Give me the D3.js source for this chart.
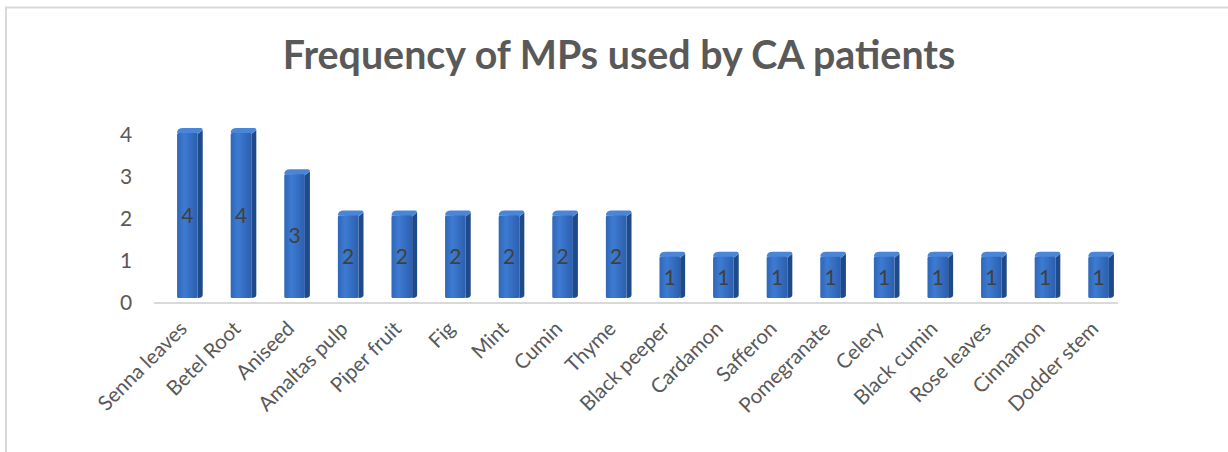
<!DOCTYPE html>
<html>
<head>
<meta charset="utf-8">
<script src="https://cdn.jsdelivr.net/npm/d3@7"></script>
<style>
  body { margin: 0; background: #fff; }
  svg { display: block; font-family: Lato, "Open Sans", sans-serif; }
</style>
</head>
<body>
<svg></svg>
<script>
var categories = ["Senna leaves", "Betel Root", "Aniseed", "Amaltas pulp", "Piper fruit", "Fig", "Mint", "Cumin", "Thyme",
    "Black peeper", "Cardamon", "Safferon", "Pomegranate", "Celery", "Black cumin", "Rose leaves", "Cinnamon", "Dodder stem"];
var values = [4, 4, 3, 2, 2, 2, 2, 2, 2, 1, 1, 1, 1, 1, 1, 1, 1, 1];
var yTicks = [0, 1, 2, 3, 4];
var title = "Frequency of MPs used by CA patients";

var width = 1228, height = 452;
var svg = d3.select("svg").attr("width", width).attr("height", height);

// chart frame (runs off the right and bottom edges)
svg.append("rect")
    .attr("x", 6).attr("y", 7.5)
    .attr("width", 1260).attr("height", 480)
    .attr("fill", "none")
    .attr("stroke", "#d9d9d9")
    .attr("stroke-width", 2);

var defs = svg.append("defs");
var grad = defs.append("linearGradient").attr("id", "front").attr("x1", 0).attr("x2", 1).attr("y1", 0).attr("y2", 0);
grad.append("stop").attr("offset", "0%").attr("stop-color", "#2f66b8");
grad.append("stop").attr("offset", "35%").attr("stop-color", "#3d7bd2");
grad.append("stop").attr("offset", "100%").attr("stop-color", "#2c5fae");

var x = d3.scaleBand().domain(categories).range([154, 1118]).paddingInner(0.615).paddingOuter(0.3);
var y = d3.scaleLinear().domain([0, 4]).range([303, 135]);
// bar fronts sit a little behind the floor line
var yBar = d3.scaleLinear().domain([0, 4]).range([298, 133]);
var dx = 5, dy = 5, shift = 7;

// title, fitted to the width it has in the picture
var t = svg.append("text")
    .attr("x", 619).attr("y", 69)
    .attr("text-anchor", "middle")
    .attr("font-weight", "bold")
    .attr("font-size", 34)
    .attr("fill", "#595959")
    .text(title);
var tw = t.node().getComputedTextLength();
t.attr("font-size", 34 * 673 / tw);

// y axis labels
svg.append("g").selectAll("text")
    .data(yTicks)
    .join("text")
    .attr("x", 126).attr("y", d => y(d))
    .attr("dy", "0.35em")
    .attr("text-anchor", "middle")
    .attr("font-size", 21)
    .attr("fill", "#595959")
    .text(d => d);

// floor line
svg.append("line")
    .attr("x1", 154).attr("x2", 1118)
    .attr("y1", 303).attr("y2", 303)
    .attr("stroke", "#d9d9d9").attr("stroke-width", 2);

var bars = svg.append("g").selectAll("g")
    .data(categories.map((c, i) => ({ name: c, value: values[i] })))
    .join("g")
    .attr("transform", d => "translate(" + (x(d.name) + shift) + ",0)");

var bw = x.bandwidth();

// side face
bars.append("path")
    .attr("d", d => {
        var top = yBar(d.value), bot = yBar(0);
        return "M" + bw + "," + (top + 1) + " L" + (bw + dx) + "," + (top - dy + 2) +
            " L" + (bw + dx) + "," + (bot - dy + 2) + " Q" + (bw + dx) + "," + bot + " " + bw + "," + bot + " Z";
    })
    .attr("fill", "#1f4a8a");

// top face
bars.append("path")
    .attr("d", d => {
        var top = yBar(d.value);
        return "M0," + top + " Q0," + (top - dy) + " " + (dx + 1) + "," + (top - dy) +
            " L" + (bw + dx - 2) + "," + (top - dy) + " Q" + (bw + dx) + "," + (top - dy) + " " + (bw + dx) + "," + (top - dy + 2) +
            " L" + bw + "," + (top + 1) + " Z";
    })
    .attr("fill", "#4a86d8");

// front face
bars.append("rect")
    .attr("x", 0).attr("width", bw)
    .attr("y", d => yBar(d.value))
    .attr("height", d => yBar(0) - yBar(d.value))
    .attr("rx", 1.5)
    .attr("fill", "url(#front)");

// data labels
bars.append("text")
    .attr("x", bw / 2)
    .attr("y", d => (yBar(d.value) + yBar(0)) / 2)
    .attr("dy", "0.35em")
    .attr("text-anchor", "middle")
    .attr("font-size", 21)
    .attr("fill", "#404040")
    .text(d => d.value);

// category labels
svg.append("g").selectAll("text")
    .data(categories)
    .join("text")
    .attr("transform", d => "translate(" + (x(d) + bw / 2 + 8) + ",330) rotate(-45)")
    .attr("text-anchor", "end")
    .attr("font-size", 20.5)
    .attr("fill", "#595959")
    .text(d => d);
</script>
</body>
</html>
